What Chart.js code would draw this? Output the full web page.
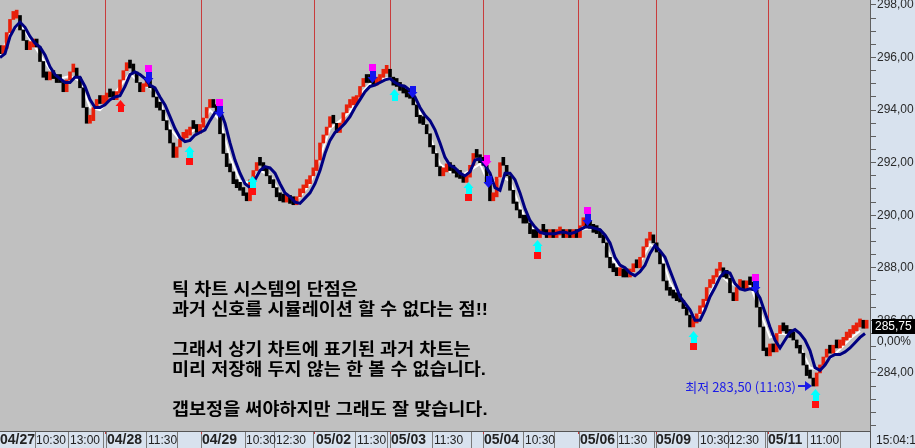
<!DOCTYPE html>
<html>
<head>
<meta charset="utf-8">
<script src="https://cdn.jsdelivr.net/npm/chart.js@4.4.1/dist/chart.umd.min.js"></script>
<style>
  html, body { margin: 0; padding: 0; background: #d8e2ee; }
  #chartContainer { width: 915px; height: 448px; }
</style>
</head>
<body>
<div id="chartContainer"><canvas id="chart" width="915" height="448"></canvas></div>
<script>
// tick closes, one every step on the x axis
const closes = [
  296.15, 296.35, 296.95, 297.45, 297.50, 297.60, 297.05, 296.65, 296.30, 296.40, 296.60, 296.40, 295.85, 295.25, 295.15, 295.35, 295.20, 295.05, 295.05, 294.70,
  295.15, 295.45, 295.60, 295.25, 294.85, 294.10, 293.50, 293.60, 294.10, 294.30, 294.25, 294.30, 294.65, 294.50, 294.40, 294.65, 295.15, 295.50, 295.70, 295.60,
  295.45, 295.05, 294.70, 294.90, 295.15, 294.85, 294.50, 294.10, 294.00, 293.60, 293.25, 292.75, 292.20,
  292.60, 292.85, 292.95, 293.05, 293.35, 293.30, 293.15, 293.35, 293.70, 294.10, 294.40, 294.10, 293.90, 293.10, 292.35, 291.85, 291.65, 291.20, 291.05, 290.95,
  290.75, 290.55, 291.35, 291.70, 292.00, 291.90, 291.70, 291.50, 291.20, 291.05, 290.70, 290.55, 290.50, 290.55, 290.45, 290.40, 290.70, 290.85, 291.05, 291.20,
  291.50, 291.70, 292.10, 292.75, 293.05, 293.35, 293.75, 293.50, 293.15, 293.50, 293.90, 294.10,
  294.20, 294.25, 294.50, 294.90, 295.05, 295.05, 295.05, 294.95, 295.05, 295.25, 295.40, 295.45, 295.25, 294.95, 294.90, 294.75, 294.65, 294.50, 294.45, 294.20,
  293.75, 293.50, 293.45, 293.10, 292.60, 292.35, 291.85, 291.50, 291.65, 291.90, 291.70, 291.60, 291.45, 291.40, 291.25, 291.45, 291.90, 292.35, 292.20, 292.00,
  291.90, 291.20, 290.55, 290.70, 291.45, 292.00, 291.90, 291.50, 290.95, 290.45, 290.20, 289.90, 289.70,
  289.70, 289.30, 289.15, 289.15, 289.35, 289.35, 289.15, 289.30, 289.15, 289.25, 289.30, 289.15, 289.30, 289.15, 289.30, 289.15, 289.60, 289.75, 289.55, 289.50,
  289.35, 289.30, 289.15, 288.95, 288.40, 288.00, 287.85, 287.70, 287.80, 287.65, 287.65, 287.85, 288.00, 288.00, 288.40, 288.80, 289.05, 289.25, 288.95, 288.60,
  288.15, 287.50, 287.15, 286.95, 286.85, 286.75, 286.70, 286.45, 286.20, 285.75, 285.90, 286.25,
  286.50, 286.75, 287.25, 287.40, 287.65, 287.90, 288.00, 287.65, 287.60, 287.05, 286.75, 287.25, 287.40, 287.20, 287.40, 287.35, 287.15, 286.50, 285.75, 284.85,
  284.65, 285.10, 284.80, 285.50, 285.70, 285.60, 285.50, 285.35, 285.25, 284.95, 284.75, 284.30, 283.90, 283.80, 283.50, 284.00, 284.30, 284.60, 284.80, 284.75,
  284.95, 284.95, 285.05, 285.25, 285.35, 285.50, 285.60, 285.75, 285.80, 285.70, 285.75
];

// slow average (navy), read every 1.5 steps
const slowAvg = [
  296.00, 296.15, 296.80, 297.15, 297.35, 297.15, 296.80, 296.55, 296.40, 296.10,
  295.65, 295.35, 295.20, 295.05, 295.05, 295.25, 295.25, 294.90, 294.40, 294.10,
  294.10, 294.20, 294.40, 294.50, 294.55, 294.90, 295.35, 295.45, 295.35, 295.20,
  294.95, 294.85, 294.50, 294.20, 293.75, 293.30, 292.95, 292.80, 292.85, 293.05,
  293.15, 293.25, 293.60, 293.90, 294.00, 293.50, 292.75, 292.10, 291.60, 291.20,
  291.05, 291.35, 291.70, 291.85, 291.80, 291.60, 291.20, 290.85, 290.70, 290.50,
  290.45, 290.65, 290.85, 291.20, 291.70, 292.35, 292.85, 293.15, 293.30, 293.50,
  293.75, 294.10, 294.40, 294.70, 294.90, 294.95, 295.05, 295.15, 295.20, 295.05,
  294.95, 294.90, 294.75, 294.50, 294.10, 293.80, 293.60, 293.25, 292.75, 292.20,
  291.90, 291.80, 291.60, 291.50, 291.65, 292.10, 292.15, 291.90, 291.60, 291.05,
  290.95, 291.60, 291.60, 291.35, 290.85, 290.25, 289.80, 289.55, 289.35, 289.30,
  289.30, 289.30, 289.35, 289.35, 289.30, 289.35, 289.45, 289.55, 289.55, 289.50,
  289.45, 289.25, 288.95, 288.40, 288.10, 288.00, 287.80, 287.70, 287.85, 288.10,
  288.55, 288.85, 288.65, 288.40, 287.90, 287.40, 286.90, 286.65, 286.40, 286.00,
  286.00, 286.40, 286.90, 287.25, 287.65, 287.85, 287.80, 287.40, 287.20, 287.15,
  287.20, 287.15, 286.85, 286.30, 285.75, 285.25, 284.95, 285.25, 285.55, 285.65,
  285.50, 285.25, 284.85, 284.20, 284.10, 284.30, 284.60, 284.70, 284.70, 284.80,
  284.95, 285.15, 285.35, 285.50
];
const SLOW_STEP = 1.5;

// fast average (white), read every 3 steps
const fastAvg = [
  296.1, 296.9, 297.3, 296.7, 296.1, 295.55, 295.2, 295.3, 295.1, 294.1,
  294.0, 294.4, 294.9, 295.4, 295.0, 294.85, 294.3, 293.3, 292.85, 293.15,
  293.35, 294.0, 293.6, 292.2, 291.3, 291.25, 291.7, 291.5, 290.85, 290.5,
  290.7, 291.2, 292.2, 293.3, 293.6, 293.95, 294.6, 295.0, 295.15, 295.25,
  294.95, 294.6, 293.9, 293.0, 291.95, 291.65, 291.5, 291.7, 291.95, 291.1,
  291.5, 291.3, 290.3, 289.55, 289.35, 289.3, 289.3, 289.2, 289.45, 289.5,
  289.3, 288.45, 287.95, 287.85, 288.2, 288.9, 288.6, 287.45, 286.8, 286.1,
  286.25, 287.0, 287.75, 287.4, 287.3, 287.35, 286.35, 285.35, 285.5, 285.45,
  285.0, 284.2, 284.1, 284.55, 284.9, 285.3, 285.6
];
const FAST_STEP = 3;

// session starts (step) and the opening price the red line drops to
const dayStarts = [31.5, 60.3, 94.2, 117, 145, 173.4, 196.8, 230.4];
const dayOpens = [294.5, 293.1, 291.7, 295.15, 292.1, 289.3, 288.85, 285.75];

// bottom time axis
const timeLabels = ['04/27', '10:30', '13:00', '04/28', '11:30', '04/29', '10:30', '12:30', '05/02', '11:30',
  '05/03', '11:30', '05/04', '10:30', '05/06', '11:30', '05/09', '10:30', '12:30', '05/11', '11:00'];
const timeLabelSteps = [0, 10.8, 21, 32.1, 44.4, 60.6, 73.8, 82.8, 94.8, 107.1,
  117.3, 130.2, 145.2, 157.5, 174, 185.4, 196.8, 210, 218.7, 230.4, 243];
const timeSeparators = [10.5, 20.4, 30.9, 31.8, 43.8, 53.1, 60.3, 73.5, 82.2, 93.9, 106.5, 116.1, 117,
  129.6, 141.3, 144.9, 156.9, 166.2, 173.7, 185.1, 196.2, 196.8, 209.4, 218.4, 229.5, 230.1, 242.1, 252];
const clockText = '15:04:1';

// trade signals
const signalSteps = [36, 44.4, 56.7, 65.7, 75.6, 111.6, 118.2, 123.6, 140.4, 145.8, 146.4, 161.1, 176.1, 207.9, 226.5, 244.5];
const signalPrices = [294.4, 295.0, 292.65, 293.7, 291.5, 295.05, 294.8, 294.45, 291.25, 291.85, 291.05, 289.05, 289.6, 285.6, 287.05, 283.4];
const signalKinds = ['redUp', 'sell', 'buy', 'sell', 'buy', 'sell', 'cyanUp', 'blueDown', 'buy', 'magentaDown', 'blueDown',
  'buy', 'sell', 'buy', 'sell', 'buy'];

const lowText = '최저 283,50 (11:03)';
const changeText = '0,00%';
const noteLines = [
  '틱 차트 시스템의 단점은',
  '과거 신호를 시뮬레이션 할 수 없다는 점!!',
  '',
  '그래서 상기 차트에 표기된 과거 차트는',
  '미리 저장해 두지 않는 한 볼 수 없습니다.',
  '',
  '갭보정을 써야하지만 그래도 잘 맞습니다.'
];

const RED = '#e8200a';
const fmt = v => v.toFixed(2).replace('.', ',');

// bars go from the previous close to this close
const barData = closes.map((c, i) => ({ x: i, y: [i ? closes[i - 1] : c, c] }));
const barColors = closes.map((c, i) => (i && c > closes[i - 1]) ? RED : '#000000');

function drawSignal(ctx, kind, px, py) {
  const up = (col, x, y) => {
    ctx.fillStyle = col;
    ctx.beginPath();
    ctx.moveTo(x + 0.5, y);
    ctx.lineTo(x + 5.5, y + 6);
    ctx.lineTo(x - 4.5, y + 6);
    ctx.closePath();
    ctx.fill();
    ctx.fillRect(x - 2, y + 6, 6, 6);
  };
  const down = (col, x, y) => {
    ctx.fillStyle = col;
    ctx.beginPath();
    ctx.moveTo(x + 0.5, y);
    ctx.lineTo(x + 5.5, y - 6);
    ctx.lineTo(x - 4.5, y - 6);
    ctx.closePath();
    ctx.fill();
    ctx.fillRect(x - 2, y - 12, 6, 6);
  };
  switch (kind) {
    case 'sell':
      down('#1414ee', px, py);
      ctx.fillStyle = '#ff00ff';
      ctx.fillRect(px - 3, py - 19, 7, 7);
      break;
    case 'buy':
      up('#00ffff', px, py);
      ctx.fillStyle = '#ff1010';
      ctx.fillRect(px - 3, py + 12, 7, 7);
      break;
    case 'redUp':
      up('#ff1010', px, py);
      break;
    case 'cyanUp':
      up('#00ffff', px, py);
      break;
    case 'blueDown':
      down('#1414ee', px, py);
      break;
    case 'magentaDown':
      down('#ff00ff', px, py);
      break;
  }
}

const paintPlugin = {
  id: 'paint',
  beforeDraw(chart) {
    const { ctx, chartArea: a } = chart;
    ctx.save();
    ctx.fillStyle = '#d8e2ee';
    ctx.fillRect(0, 0, chart.width, chart.height);
    ctx.fillStyle = '#c0c0c0';
    ctx.fillRect(a.left, a.top, a.right - a.left, a.bottom - a.top);
    ctx.restore();
  },
  beforeDatasetsDraw(chart) {
    const { ctx, chartArea: a, scales: { x, y } } = chart;
    ctx.save();
    ctx.strokeStyle = '#c83c3c';
    ctx.lineWidth = 1;
    dayStarts.forEach((t, i) => {
      const px = Math.round(x.getPixelForValue(t)) + 0.5;
      ctx.beginPath();
      ctx.moveTo(px, a.top);
      ctx.lineTo(px, y.getPixelForValue(dayOpens[i]));
      ctx.stroke();
    });
    ctx.restore();
  },
  afterDatasetsDraw(chart) {
    const { ctx, chartArea: a, scales: { x, y } } = chart;
    ctx.save();
    signalSteps.forEach((t, i) => {
      drawSignal(ctx, signalKinds[i], Math.round(x.getPixelForValue(t)), Math.round(y.getPixelForValue(signalPrices[i])));
    });

    // lowest point note
    const low = Math.min(...closes);
    const lx = Math.round(x.getPixelForValue(closes.indexOf(low)));
    const ly = Math.round(y.getPixelForValue(low));
    ctx.fillStyle = '#1c1ce6';
    ctx.strokeStyle = '#1c1ce6';
    ctx.lineWidth = 2;
    ctx.beginPath();
    ctx.moveTo(lx - 15, ly);
    ctx.lineTo(lx - 7, ly);
    ctx.stroke();
    ctx.beginPath();
    ctx.moveTo(lx - 1, ly);
    ctx.lineTo(lx - 8, ly - 5);
    ctx.lineTo(lx - 8, ly + 5);
    ctx.closePath();
    ctx.fill();
    ctx.font = '13px "Noto Sans CJK KR", sans-serif';
    ctx.textAlign = 'right';
    ctx.textBaseline = 'middle';
    ctx.fillText(lowText, lx - 17, ly + 1);

    // comment block, stretched a little to match the wide bitmap font
    ctx.fillStyle = '#000000';
    ctx.textAlign = 'left';
    ctx.font = 'bold 17px "Liberation Sans", "Noto Sans CJK KR", sans-serif';
    ctx.translate(a.left + 172, a.top);
    ctx.scale(1.09, 1);
    noteLines.forEach((line, i) => {
      if (line) ctx.fillText(line, 0, 290 + i * 20);
    });
    ctx.restore();
  },
  afterDraw(chart) {
    const { ctx, chartArea: a, scales: { x, y } } = chart;
    ctx.save();
    // bottom time strip
    ctx.strokeStyle = '#555555';
    ctx.lineWidth = 1;
    ctx.beginPath();
    ctx.moveTo(0, a.bottom + 0.5);
    ctx.lineTo(a.right, a.bottom + 0.5);
    ctx.moveTo(a.right + 0.5, a.bottom);
    ctx.lineTo(a.right + 0.5, chart.height);
    ctx.stroke();
    ctx.strokeStyle = '#7a7a7a';
    timeSeparators.forEach(t => {
      const px = Math.round(x.getPixelForValue(t)) + 0.5;
      ctx.beginPath();
      ctx.moveTo(px, a.bottom + 1);
      ctx.lineTo(px, chart.height);
      ctx.stroke();
    });
    ctx.strokeStyle = '#c83c3c';
    dayStarts.forEach(t => {
      const px = Math.round(x.getPixelForValue(t)) + 0.5;
      ctx.beginPath();
      ctx.moveTo(px, a.bottom + 1);
      ctx.lineTo(px, a.bottom + 3);
      ctx.stroke();
    });
    ctx.fillStyle = '#222222';
    ctx.textAlign = 'left';
    ctx.textBaseline = 'middle';
    const midY = a.bottom + 9.5;
    timeLabels.forEach((lab, i) => {
      ctx.font = lab.includes('/') ? 'bold 14px "Liberation Sans", Arial, sans-serif' : '12px "Liberation Sans", Arial, sans-serif';
      ctx.fillText(lab, Math.round(x.getPixelForValue(timeLabelSteps[i])), midY);
    });
    ctx.font = '12px "Liberation Sans", Arial, sans-serif';
    ctx.fillText(clockText, a.right + 6, midY);

    // last price box on the price axis
    const last = closes[closes.length - 1];
    const py = Math.round(y.getPixelForValue(last));
    ctx.fillStyle = '#000000';
    ctx.fillRect(a.right + 2, py - 8, chart.width - a.right - 2, 15);
    ctx.fillStyle = '#ffffff';
    ctx.fillText(fmt(last), a.right + 5, py);
    ctx.fillStyle = '#222222';
    ctx.fillText(changeText, a.right + 7, py + 15);
    ctx.restore();
  }
};

const ctx = document.getElementById('chart').getContext('2d');
new Chart(ctx, {
  type: 'bar',
  data: {
    datasets: [
      {
        type: 'line',
        data: fastAvg.map((v, j) => ({ x: j * FAST_STEP, y: v })),
        borderColor: '#ffffff',
        borderWidth: 2,
        pointRadius: 0,
        tension: 0,
        order: 3
      },
      {
        type: 'bar',
        data: barData,
        backgroundColor: barColors,
        borderWidth: 0,
        barThickness: 3,
        minBarLength: 8,
        order: 2
      },
      {
        type: 'line',
        data: slowAvg.map((v, k) => ({ x: k * SLOW_STEP, y: v })),
        borderColor: '#000080',
        borderWidth: 3,
        pointRadius: 0,
        tension: 0,
        order: 1
      }
    ]
  },
  options: {
    responsive: false,
    animation: false,
    devicePixelRatio: 1,
    layout: { padding: { left: 0, top: 0, right: 0, bottom: 17 } },
    plugins: { legend: { display: false }, tooltip: { enabled: false } },
    scales: {
      x: { type: 'linear', display: false, min: 0, max: 261, offset: false },
      y: {
        position: 'right',
        min: 281.79,
        max: 298.19,
        afterFit(scale) {
          scale.width = 45;
          scale.paddingTop = 0;
          scale.paddingBottom = 0;
        },
        grid: { drawOnChartArea: false, drawTicks: true, tickLength: 6, tickColor: '#606060' },
        border: { display: true, color: '#606060' },
        ticks: {
          stepSize: 0.5,
          autoSkip: false,
          includeBounds: false,
          padding: 1,
          color: '#2a2a2a',
          font: { family: '"Liberation Sans", Arial, sans-serif', size: 12 },
          callback: v => (v >= 284 && Math.abs(v % 2) < 1e-6 ? fmt(v) : '')
        }
      }
    }
  },
  plugins: [paintPlugin]
});
</script>
</body>
</html>
